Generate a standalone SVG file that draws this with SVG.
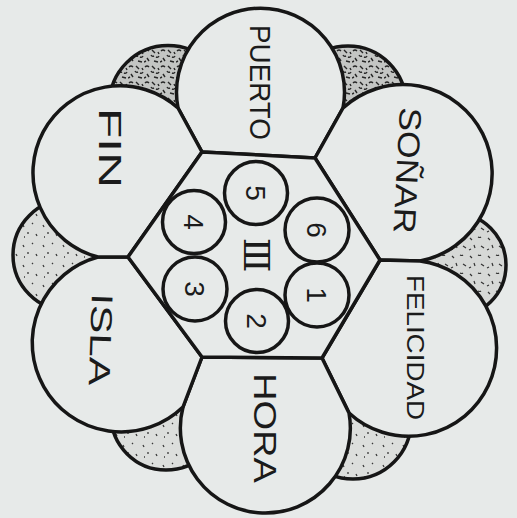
<svg xmlns="http://www.w3.org/2000/svg" width="517" height="518" viewBox="0 0 517 518">
<defs>
<pattern id="pd" width="16" height="16" patternUnits="userSpaceOnUse">
<rect width="16" height="16" fill="#c3c5c3"/>
<path d="M1 3q2-2 4 0M8 2l3 3M12 9q2 1 3-1M3 10l2 3M7 7q1 2 3 1M10 13l4 1M0 14l2-1M14 4l1 2" stroke="#262626" stroke-width="1.4" fill="none"/>
</pattern>
<pattern id="pm" width="18" height="18" patternUnits="userSpaceOnUse">
<rect width="18" height="18" fill="#d6d8d6"/>
<path d="M2 4l2 2M10 3q2 1 3 0M6 11l1 3M13 12l3 2M1 16l2-1" stroke="#333" stroke-width="1.2" fill="none"/>
</pattern>
<pattern id="ps" width="20" height="20" patternUnits="userSpaceOnUse">
<rect width="20" height="20" fill="#dcdedc"/>
<path d="M3 5l1 2M12 3l1 1M8 12l0 2M16 14l1 2M4 17l1 0" stroke="#3a3a3a" stroke-width="1.3" fill="none"/>
</pattern>
<style>
.ln{stroke:#161616;stroke-width:3.5;stroke-linejoin:round;stroke-linecap:round}
.cell{fill:#e7eae9}
.lbl{font-family:"Liberation Sans","DejaVu Sans",sans-serif;fill:#1b1b1b}
.num{font-family:"Liberation Sans","DejaVu Sans",sans-serif;fill:#1b1b1b;font-size:28px;text-anchor:middle}
</style>
</defs>
<rect width="517" height="518" fill="#e7eae9"/>
<g id="lobes">
<circle class="ln" cx="168" cy="104" r="58.5" fill="url(#pd)"/>
<circle class="ln" cx="348" cy="104" r="58" fill="url(#pd)"/>
<circle class="ln" cx="454" cy="265" r="52" fill="url(#pm)"/>
<circle class="ln" cx="353" cy="421" r="58" fill="url(#ps)"/>
<circle class="ln" cx="166" cy="415" r="55" fill="url(#ps)"/>
<circle class="ln" cx="69" cy="255" r="56" fill="url(#ps)"/>
</g>
<g id="puerto">
<path class="ln cell" d="M202,152 L178,108 A84,84 0 1 1 343,108 L315,158 Z"/>
<text class="lbl" font-size="29" transform="translate(250,25) rotate(90)" textLength="115" lengthAdjust="spacingAndGlyphs">PUERTO</text>
</g>
<g id="sonar">
<path class="ln cell" d="M315,158 L343,108 A89,89 0 1 1 420,261 L380,260 Z"/>
<text class="lbl" font-size="31" transform="translate(400,107) rotate(93)" textLength="126" lengthAdjust="spacingAndGlyphs">SOÑAR</text>
</g>
<g id="felicidad">
<path class="ln cell" d="M380,260 L420,261 A88,88 0 1 1 349,413 L322,358 Z"/>
<text class="lbl" font-size="23" transform="translate(407,275) rotate(90)" textLength="145" lengthAdjust="spacingAndGlyphs">FELICIDAD</text>
</g>
<g id="hora">
<path class="ln cell" d="M322,358 L349,413 A85,85 0 1 1 183,407 L202,357 Z"/>
<text class="lbl" font-size="31" transform="translate(254,373) rotate(90)" textLength="110" lengthAdjust="spacingAndGlyphs">HORA</text>
</g>
<g id="isla">
<path class="ln cell" d="M202,357 L183,407 A89,89 0 1 1 98,257 L128,257 Z"/>
<text class="lbl" font-size="30" transform="translate(92,293) rotate(92)" textLength="92" lengthAdjust="spacingAndGlyphs">ISLA</text>
</g>
<g id="fin">
<path class="ln cell" d="M128,257 L98,257 A87,87 0 1 1 178,108 L202,152 Z"/>
<text class="lbl" font-size="32" transform="translate(99,108) rotate(90)" textLength="80" lengthAdjust="spacingAndGlyphs">FIN</text>
</g>
<g id="hexagon">
<polygon class="ln cell" points="202,152 315,158 380,260 322,358 202,357 128,257"/>
<text font-family="'DejaVu Serif','Liberation Serif',serif" fill="#1b1b1b" font-size="36" text-anchor="middle" transform="translate(257,255) rotate(90)" y="13">Ⅲ</text>
</g>
<g id="n5"><circle class="ln cell" cx="256" cy="193" r="31.5"/><text class="num" transform="translate(256,193) rotate(90)" y="10">5</text></g>
<g id="n6"><circle class="ln cell" cx="317" cy="230" r="32"/><text class="num" transform="translate(317,230) rotate(90)" y="10">6</text></g>
<g id="n1"><circle class="ln cell" cx="317" cy="295" r="32"/><text class="num" transform="translate(317,295) rotate(90)" y="10">1</text></g>
<g id="n2"><circle class="ln cell" cx="257" cy="321" r="31.5"/><text class="num" transform="translate(257,321) rotate(90)" y="10">2</text></g>
<g id="n3"><circle class="ln cell" cx="195" cy="289" r="32"/><text class="num" transform="translate(195,289) rotate(90)" y="10">3</text></g>
<g id="n4"><circle class="ln cell" cx="194" cy="222" r="31.5"/><text class="num" transform="translate(194,222) rotate(90)" y="10">4</text></g>
<g id="connectors"></g>
</svg>
